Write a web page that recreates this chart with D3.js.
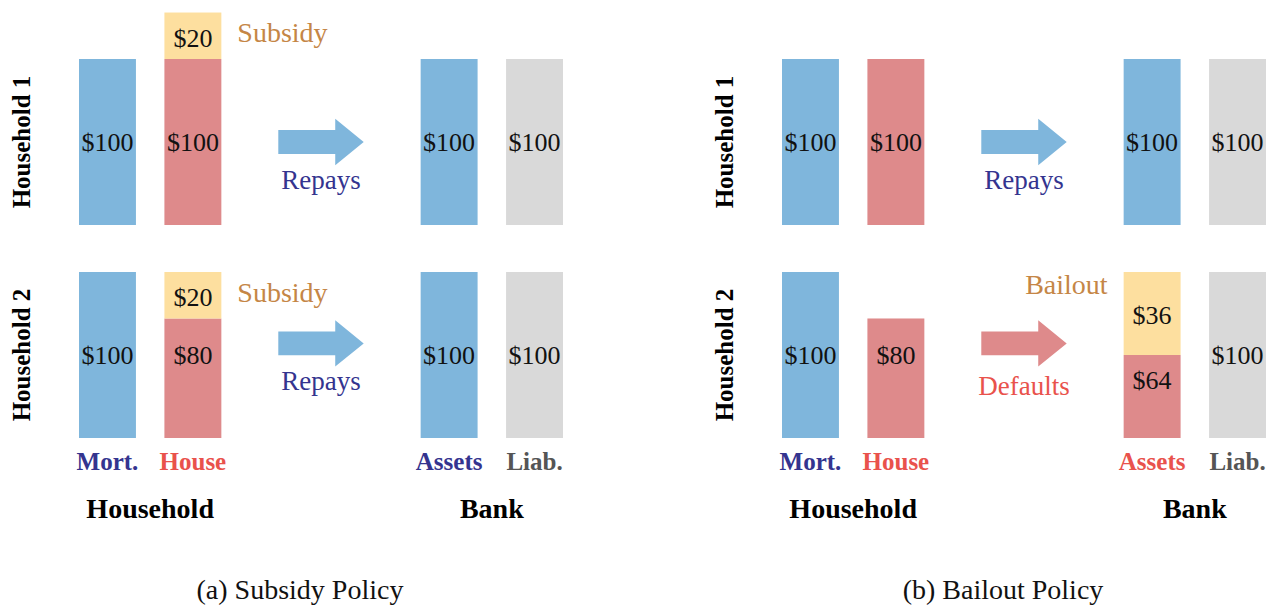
<!DOCTYPE html>
<html>
<head>
<meta charset="utf-8">
<script src="https://cdn.jsdelivr.net/npm/d3@7"></script>
<style>
  body { margin: 0; background: #fff; }
  svg { display: block; font-family: "Palatino Linotype", Palatino, "Liberation Serif", serif; }
  .val { font-size: 26px; fill: #111; }
  .col-label { font-size: 25px; font-weight: bold; }
  .group-title { font-size: 28px; font-weight: bold; fill: #000; }
  .row-label { font-size: 25px; font-weight: bold; fill: #000; }
  .note { font-size: 28px; }
  .flow-label { font-size: 27px; }
  .caption { font-size: 28px; fill: #111; }
</style>
</head>
<body>
<div id="chart"></div>
<script>
//
// data
//
const rows = ['Household 1', 'Household 2'];
// column slots; the two flow slots hold the arrow between household and bank
const columns = ['Mort.', 'House', 'flowA', 'flowB', 'Assets', 'Liab.'];
const groups = [
  { title: 'Household', cols: ['Mort.', 'House'] },
  { title: 'Bank', cols: ['Assets', 'Liab.'] }
];
const captions = ['(a) Subsidy Policy', '(b) Bailout Policy'];

// segment sizes as drawn (a full balance sheet = 100 units) and the amounts printed on them
const subsidySegments = [
  { row: 'Household 1', col: 'Mort.', kind: 'mort', size: 100, label: '$100', labelAt: 50 },
  { row: 'Household 1', col: 'House', kind: 'house', size: 100, label: '$100', labelAt: 50 },
  { row: 'Household 1', col: 'House', kind: 'subsidy', size: 28, label: '$20', labelAt: 113 },
  { row: 'Household 1', col: 'Assets', kind: 'assets', size: 100, label: '$100', labelAt: 50 },
  { row: 'Household 1', col: 'Liab.', kind: 'liab', size: 100, label: '$100', labelAt: 50 },
  { row: 'Household 2', col: 'Mort.', kind: 'mort', size: 100, label: '$100', labelAt: 50 },
  { row: 'Household 2', col: 'House', kind: 'house', size: 72, label: '$80', labelAt: 50 },
  { row: 'Household 2', col: 'House', kind: 'subsidy', size: 28, label: '$20', labelAt: 85 },
  { row: 'Household 2', col: 'Assets', kind: 'assets', size: 100, label: '$100', labelAt: 50 },
  { row: 'Household 2', col: 'Liab.', kind: 'liab', size: 100, label: '$100', labelAt: 50 }
];
const bailoutSegments = [
  { row: 'Household 1', col: 'Mort.', kind: 'mort', size: 100, label: '$100', labelAt: 50 },
  { row: 'Household 1', col: 'House', kind: 'house', size: 100, label: '$100', labelAt: 50 },
  { row: 'Household 1', col: 'Assets', kind: 'assets', size: 100, label: '$100', labelAt: 50 },
  { row: 'Household 1', col: 'Liab.', kind: 'liab', size: 100, label: '$100', labelAt: 50 },
  { row: 'Household 2', col: 'Mort.', kind: 'mort', size: 100, label: '$100', labelAt: 50 },
  { row: 'Household 2', col: 'House', kind: 'house', size: 72, label: '$80', labelAt: 50 },
  { row: 'Household 2', col: 'Assets', kind: 'default', size: 50, label: '$64', labelAt: 35 },
  { row: 'Household 2', col: 'Assets', kind: 'bailout', size: 50, label: '$36', labelAt: 74 },
  { row: 'Household 2', col: 'Liab.', kind: 'liab', size: 100, label: '$100', labelAt: 50 }
];

// arrows from household to bank (at = arrow centre, in units)
const subsidyFlows = [
  { row: 'Household 1', label: 'Repays', kind: 'repay', at: 50 },
  { row: 'Household 2', label: 'Repays', kind: 'repay', at: 57 }
];
const bailoutFlows = [
  { row: 'Household 1', label: 'Repays', kind: 'repay', at: 50 },
  { row: 'Household 2', label: 'Defaults', kind: 'default', at: 57 }
];

// side notes next to the yellow segments (at = baseline, in units)
const subsidyNotes = [
  { row: 'Household 1', col: 'House', text: 'Subsidy', side: 'right', at: 110 },
  { row: 'Household 2', col: 'House', text: 'Subsidy', side: 'right', at: 82 }
];
const bailoutNotes = [
  { row: 'Household 2', col: 'Assets', text: 'Bailout', side: 'left', at: 87 }
];

// column label colours per panel
const subsidyLabelKinds = { 'Mort.': 'blue', 'House': 'red', 'Assets': 'blue', 'Liab.': 'gray' };
const bailoutLabelKinds = { 'Mort.': 'blue', 'House': 'red', 'Assets': 'red', 'Liab.': 'gray' };

//
// styles
//
const fills = {
  mort: '#7fb6dc', house: '#de8a8b', subsidy: '#fddf9f',
  assets: '#7fb6dc', liab: '#d9d9d9', default: '#de8a8b', bailout: '#fddf9f'
};
const flowFills = { repay: '#7fb6dc', default: '#de8a8b' };
const textColors = { blue: '#34348f', red: '#e9524c', gray: '#555555', tan: '#c58646' };
const flowText = { repay: 'blue', default: 'red' };
const flowLabelGap = { repay: 47, default: 52 };

const width = 1276, height = 607;
const panelOffset = 703;

window.onload = function () {
  const svg = d3.select('#chart').append('svg')
    .attr('width', width)
    .attr('height', height);

  // scales shared by both panels
  const x = d3.scaleBand()
    .domain(columns)
    .range([79, 563])
    .paddingInner(1 / 3)
    .paddingOuter(0);

  const h = d3.scaleLinear()
    .domain([0, 100])
    .range([0, 166]);

  const rowBase = d3.scalePoint()
    .domain(rows)
    .range([225, 438]);

  const panels = [
    { segs: subsidySegments, flows: subsidyFlows, notes: subsidyNotes, labelKinds: subsidyLabelKinds },
    { segs: bailoutSegments, flows: bailoutFlows, notes: bailoutNotes, labelKinds: bailoutLabelKinds }
  ];

  panels.forEach((p, i) => {
    const g = svg.append('g')
      .attr('transform', `translate(${i * panelOffset}, 0)`);
    buildPanel(g, p, captions[i], x, h, rowBase);
  });
};

function buildPanel(g, p, caption, x, h, rowBase) {
  const bw = x.bandwidth();
  const yAt = (row, units) => rowBase(row) - h(units);

  // stack segments within each row/column
  const offsets = {};
  const segs = p.segs.map(d => {
    const key = d.row + '|' + d.col;
    const base = offsets[key] || 0;
    offsets[key] = base + d.size;
    return Object.assign({ base: base }, d);
  });

  g.selectAll('rect.seg')
    .data(segs)
    .join('rect')
    .classed('seg', true)
    .attr('x', d => x(d.col))
    .attr('y', d => yAt(d.row, d.base + d.size))
    .attr('width', bw)
    .attr('height', d => h(d.size))
    .attr('fill', d => fills[d.kind]);

  g.selectAll('text.val')
    .data(segs)
    .join('text')
    .classed('val', true)
    .attr('x', d => x(d.col) + bw / 2)
    .attr('y', d => yAt(d.row, d.labelAt))
    .attr('dy', '0.35em')
    .attr('text-anchor', 'middle')
    .text(d => d.label);

  // arrows
  const x0 = x('flowA') + bw / 2;
  const xh = x('flowB');
  const x1 = x('flowB') + bw / 2;
  const shaft = h(7.2), head = h(14);
  const arrow = g.selectAll('g.flow')
    .data(p.flows)
    .join('g')
    .classed('flow', true);

  arrow.append('path')
    .attr('d', d => {
      const cy = yAt(d.row, d.at);
      return `M${x0},${cy - shaft}H${xh}V${cy - head}L${x1},${cy}L${xh},${cy + head}V${cy + shaft}H${x0}Z`;
    })
    .attr('fill', d => flowFills[d.kind]);

  arrow.append('text')
    .classed('flow-label', true)
    .attr('x', (x0 + x1) / 2)
    .attr('y', d => yAt(d.row, d.at) + flowLabelGap[d.kind])
    .attr('text-anchor', 'middle')
    .attr('fill', d => textColors[flowText[d.kind]])
    .text(d => d.label);

  // side notes
  g.selectAll('text.note')
    .data(p.notes)
    .join('text')
    .classed('note', true)
    .attr('x', d => d.side === 'right' ? x(d.col) + bw + 16 : x(d.col) - 16)
    .attr('y', d => yAt(d.row, d.at))
    .attr('text-anchor', d => d.side === 'right' ? 'start' : 'end')
    .attr('fill', textColors.tan)
    .text(d => d.text);

  // row labels
  g.selectAll('text.row-label')
    .data(rows)
    .join('text')
    .classed('row-label', true)
    .attr('transform', d => `translate(30, ${yAt(d, 50)}) rotate(-90)`)
    .attr('text-anchor', 'middle')
    .text(d => d);

  // column labels
  const cols = columns.filter(c => p.labelKinds[c]);
  g.selectAll('text.col-label')
    .data(cols)
    .join('text')
    .classed('col-label', true)
    .attr('x', d => x(d) + bw / 2)
    .attr('y', 470)
    .attr('text-anchor', 'middle')
    .attr('fill', d => textColors[p.labelKinds[d]])
    .text(d => d);

  // group titles
  g.selectAll('text.group-title')
    .data(groups)
    .join('text')
    .classed('group-title', true)
    .attr('x', d => (x(d.cols[0]) + x(d.cols[1]) + bw) / 2)
    .attr('y', 518)
    .attr('text-anchor', 'middle')
    .text(d => d.title);

  g.append('text')
    .classed('caption', true)
    .attr('x', (x('Mort.') + x('Liab.') + bw) / 2 - 21)
    .attr('y', 599)
    .attr('text-anchor', 'middle')
    .text(caption);
}
</script>
</body>
</html>
